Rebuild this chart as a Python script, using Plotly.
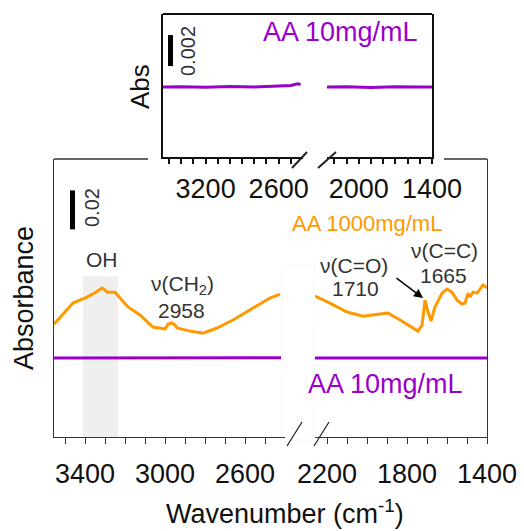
import plotly.graph_objects as go

W, H = 524, 531
FONT = "Liberation Sans, Arial, sans-serif"
ORANGE = "#FF9900"
PURPLE = "#9900CC"

# ---------------- data ----------------
# main panel, AA 1000 mg/mL (orange)
orange_w_left = [3555, 3500, 3460, 3420, 3390, 3350, 3315, 3300, 3290, 3250, 3225, 3185,
                 3125, 3060, 3000, 2985, 2965, 2950, 2940, 2875, 2810, 2740, 2660, 2560,
                 2475, 2425]
orange_a_left = [0.0174, 0.0236, 0.0282, 0.0300, 0.0313, 0.0335, 0.0359, 0.0350, 0.0338,
                 0.0338, 0.0308, 0.0262, 0.0221, 0.0159, 0.0149, 0.0174, 0.0180, 0.0170,
                 0.0154, 0.0138, 0.0128, 0.0154, 0.0195, 0.0256, 0.0308, 0.0328]
orange_w_right = [2260, 2185, 2100, 2020, 1935, 1895, 1835, 1775, 1745, 1725, 1710, 1695,
                  1680, 1660, 1625, 1600, 1575, 1550, 1525, 1510, 1495, 1485, 1470, 1450,
                  1435, 1420, 1405, 1400]
orange_a_right = [0.0318, 0.0282, 0.0236, 0.0215, 0.0226, 0.0231, 0.0195, 0.0154, 0.0138,
                  0.0169, 0.0297, 0.0236, 0.0190, 0.0262, 0.0333, 0.0354, 0.0338, 0.0297,
                  0.0277, 0.0282, 0.0333, 0.0313, 0.0338, 0.0333, 0.0354, 0.0374, 0.0364,
                  0.0360]
# main panel, AA 10 mg/mL (purple)
purple_w_left = [3555, 3300, 3000, 2700, 2420]
purple_a_left = [0.0, 0.0, 0.0, 0.0, 0.0002]
purple_w_right = [2260, 2000, 1800, 1600, 1400]
purple_a_right = [0.0, 0.0, 0.0, 0.0, 0.0]
# inset, AA 10 mg/mL (purple)
inset_w_left = [3550, 3400, 3200, 3000, 2800, 2600, 2500, 2460, 2440, 2420]
inset_a_left = [0.0, 0.00002, -0.00002, 0.00003, 0.0, 0.00005, 0.0001, 0.00018, 0.0002, 0.00015]
inset_w_right = [2260, 2100, 1900, 1700, 1500, 1400]
inset_a_right = [0.0, 0.00002, -0.00003, 0.00002, 0.0, 0.0]

# ticks
main_ticks_left = [3500, 3400, 3300, 3200, 3100, 3000, 2900, 2800, 2700, 2600, 2500]
main_labels_left = [3400, 3000, 2600]
main_ticks_right = [2200, 2100, 2000, 1900, 1800, 1700, 1600, 1500, 1400]
main_labels_right = [2200, 1800, 1400]
inset_ticks_left = [3500, 3400, 3300, 3200, 3100, 3000, 2900, 2800, 2700, 2600, 2500]
inset_labels_left = [3200, 2600]
inset_ticks_right = [2200, 2100, 2000, 1900, 1800, 1700, 1600, 1500, 1400]
inset_labels_right = [2000, 1400]

main_scale = 0.02
inset_scale = 0.002
oh_band = [3410, 3235]


def px(x):
    return x / W


def py(y):
    return 1 - y / H


fig = go.Figure()
fig.add_trace(go.Scatter(x=orange_w_left, y=orange_a_left, xaxis="x", yaxis="y",
                         mode="lines", line=dict(color=ORANGE, width=3), showlegend=False))
fig.add_trace(go.Scatter(x=purple_w_left, y=purple_a_left, xaxis="x", yaxis="y",
                         mode="lines", line=dict(color=PURPLE, width=3), showlegend=False))
fig.add_trace(go.Scatter(x=orange_w_right, y=orange_a_right, xaxis="x2", yaxis="y2",
                         mode="lines", line=dict(color=ORANGE, width=3), showlegend=False))
fig.add_trace(go.Scatter(x=purple_w_right, y=purple_a_right, xaxis="x2", yaxis="y2",
                         mode="lines", line=dict(color=PURPLE, width=3), showlegend=False))
fig.add_trace(go.Scatter(x=inset_w_left, y=inset_a_left, xaxis="x3", yaxis="y3",
                         mode="lines", line=dict(color=PURPLE, width=3), showlegend=False))
fig.add_trace(go.Scatter(x=inset_w_right, y=inset_a_right, xaxis="x4", yaxis="y4",
                         mode="lines", line=dict(color=PURPLE, width=3), showlegend=False))


def xax(domain, rng, ticks, labels, anchor, lw, lc, tl, tw, standoff):
    return dict(domain=domain, range=rng, anchor=anchor, showgrid=False, zeroline=False,
                automargin=False,
                showline=True, linecolor=lc, linewidth=lw, ticks="outside", ticklen=tl,
                tickwidth=tw, tickcolor=lc, tickmode="array", tickvals=ticks,
                ticktext=[str(t) if t in labels else "" for t in ticks],
                tickfont=dict(family=FONT, size=27, color="#111"),
                ticklabelstandoff=standoff)


def yax(domain, rng, anchor, side, lw, lc):
    return dict(domain=domain, range=rng, anchor=anchor, side=side, showgrid=False,
                zeroline=False, showline=True, linecolor=lc, linewidth=lw, ticks="",
                automargin=False, showticklabels=False)


main_yd = [py(437), py(159)]
inset_yd = [py(157), py(14)]
main_yr = [-0.0405, 0.1021]
inset_yr = [-0.00452, 0.00471]

fig.update_layout(
    template="none",
    width=W, height=H, margin=dict(l=0, r=0, t=0, b=0, autoexpand=False),
    paper_bgcolor="white", plot_bgcolor="rgba(0,0,0,0)",
    xaxis=xax([px(54), px(285)], [3555, 2400], main_ticks_left, main_labels_left, "y",
              1.4, "#333", 6, 1, 6),
    xaxis2=xax([px(315), px(487)], [2260, 1400], main_ticks_right, main_labels_right, "y2",
               1.4, "#333", 6, 1, 6),
    xaxis3=xax([px(163), px(303)], [3550, 2400], inset_ticks_left, inset_labels_left, "y3",
               2, "#111", 5, 2, 2),
    xaxis4=xax([px(327), px(432)], [2260, 1400], inset_ticks_right, inset_labels_right, "y4",
               2, "#111", 5, 2, 2),
    yaxis=yax(main_yd, main_yr, "x", "left", 1.4, "#333"),
    yaxis2=yax(main_yd, main_yr, "x2", "right", 1.4, "#333"),
    yaxis3=yax(inset_yd, inset_yr, "x3", "left", 2, "#111"),
    yaxis4=yax(inset_yd, inset_yr, "x4", "right", 2, "#111"),
)

shapes = []
# OH shaded band
shapes.append(dict(type="rect", xref="x", yref="y", x0=oh_band[0], x1=oh_band[1],
                   y0=main_yr[0], y1=0.042, fillcolor="#EFEFEF", line=dict(width=0),
                   layer="below"))
# faint break box in main panel
shapes.append(dict(type="rect", xref="paper", yref="paper", x0=px(282), x1=px(314),
                   y0=py(440), y1=py(265), fillcolor="rgba(0,0,0,0)",
                   line=dict(color="#F6F6F6", width=1), layer="below"))
# main top border segments
for a, b in [(54, 148), (444, 487)]:
    shapes.append(dict(type="line", xref="paper", yref="paper", x0=px(a), x1=px(b),
                       y0=py(159), y1=py(159), line=dict(color="#333", width=1.4)))
# inset top border
shapes.append(dict(type="line", xref="paper", yref="paper", x0=px(163), x1=px(432),
                   y0=py(14), y1=py(14), line=dict(color="#111", width=2)))
# break marks
for (x0, y0, x1, y1, w) in [(287, 446, 302, 422, 1.3), (314, 446, 329, 422, 1.3),
                            (292, 168, 307, 152, 2), (318, 168, 336, 152, 2)]:
    shapes.append(dict(type="line", xref="paper", yref="paper", x0=px(x0), x1=px(x1),
                       y0=py(y0), y1=py(y1), line=dict(color="#222", width=w)))
# scale bars
shapes.append(dict(type="line", xref="paper", yref="y", x0=px(72.5), x1=px(72.5),
                   y0=0.066, y1=0.066 + main_scale, line=dict(color="black", width=5)))
shapes.append(dict(type="line", xref="paper", yref="y3", x0=px(170.5), x1=px(170.5),
                   y0=0.00135, y1=0.00135 + inset_scale, line=dict(color="black", width=5)))
fig.update_layout(shapes=shapes)


def ann(text, x, y, size, color="#333", angle=0):
    return dict(text=text, x=px(x), y=py(y), xref="paper", yref="paper", showarrow=False,
                xanchor="center", yanchor="middle", textangle=angle,
                font=dict(family=FONT, size=size, color=color))


anns = [
    ann("Absorbance", 24, 298, 27, "#111", -90),
    ann("Wavenumber (cm<sup>-1</sup>)", 285, 512, 27, "#111"),
    ann("Abs", 140, 87, 26, "#111", -90),
    ann("AA 10mg/mL", 340, 32, 27, PURPLE),
    ann(str(inset_scale), 188, 51, 20, "#333", -90),
    ann(str(main_scale), 92, 208, 20, "#333", -90),
    ann("OH", 102, 259, 21),
    ann("ν(CH<sub>2</sub>)", 182, 285, 21),
    ann("2958", 181, 310, 21),
    ann("AA 1000mg/mL", 367, 224, 22, ORANGE),
    ann("ν(C=O)", 354, 265, 21),
    ann("1710", 355, 288, 21),
    ann("ν(C=C)", 444, 250, 21),
    ann("1665", 443, 275, 21),
    ann("AA 10mg/mL", 385, 384, 27, PURPLE),
    dict(x=px(423), y=py(298), xref="paper", yref="paper", showarrow=True,
         ax=-28, ay=-21, axref="pixel", ayref="pixel", arrowhead=2, arrowsize=1.2,
         arrowwidth=1.5, arrowcolor="black", text=""),
]
fig.update_layout(annotations=anns)

fig.write_html("out.html")
